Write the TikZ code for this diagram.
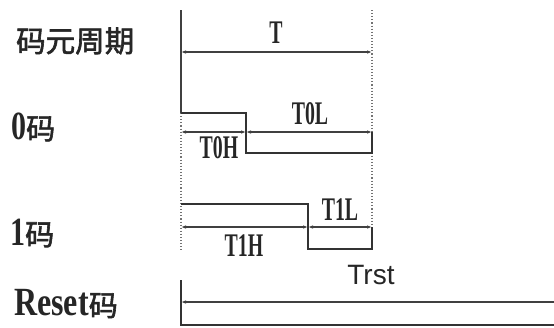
\documentclass[tikz,border=0pt]{standalone}
\usepackage{fontspec}
\setmainfont{Liberation Serif}
\newfontfamily\cjk{Noto Sans CJK SC}[FakeBold=2]
\newfontfamily\cond{Liberation Serif Bold}[FakeStretch=0.75]
\newfontfamily\condr{Liberation Serif Bold}[FakeStretch=0.8]
\newfontfamily\condt{Liberation Serif Bold}[FakeStretch=0.6]
\usetikzlibrary{arrows.meta}
\tikzset{
  wave/.style={line width=1.4pt, draw=black!80},
  ext/.style={line width=1.1pt, draw=black!55, dotted},
  extsolid/.style={line width=1.4pt, draw=black!75},
  dim/.style={line width=1.4pt, draw=black!75, {Latex[length=5pt,width=3.5pt]}-{Latex[length=5pt,width=3.5pt]}},
  dimleft/.style={line width=1.4pt, draw=black!75, {Latex[length=5pt,width=3.5pt]}-},
  rowlabel/.style={anchor=west, inner sep=0pt, text=black!85},
  tlabel/.style={inner sep=0pt, text=black!85, font=\condt\fontsize{33}{33}\selectfont},
}
\begin{document}
\begin{tikzpicture}[x=1pt, y=-1pt]
\useasboundingbox (0,0) rectangle (554,327);
% row labels
\node[rowlabel] (lper) at (16,41) {\cjk\fontsize{29.5}{30}\selectfont 码元周期};
\node[rowlabel] (lzero) at (11,127) {\cond\fontsize{40}{40}\selectfont 0\cjk\fontsize{29}{30}\selectfont 码};
\node[rowlabel] (lone) at (10,233) {\cond\fontsize{40}{40}\selectfont 1\cjk\fontsize{29}{30}\selectfont 码};
\node[rowlabel] (lrst) at (14,304) {\condr\fontsize{40}{40}\selectfont Reset\cjk\fontsize{29}{30}\selectfont 码};
% extension lines
\coordinate (Ltop) at (181,10);
\coordinate (Lmid) at (181,113);
\coordinate (Lbot) at (181,250);
\coordinate (Rtop) at (372,10);
\coordinate (Rbot) at (372,228);
\draw[extsolid] (Ltop) -- (Lmid);
\draw[ext] (Lmid) -- (Lbot);
\draw[ext] (Rtop) -- (Rbot);
% period T
\coordinate (Ta) at (181,52);
\coordinate (Tb) at (372,52);
\draw[dim] (Ta) -- (Tb);
\node[tlabel] (T) at (276,33) {T};
% 0 code waveform
\coordinate (z1) at (181,113);
\coordinate (z2) at (246,113);
\coordinate (z3) at (246,153);
\coordinate (z4) at (372,153);
\coordinate (z5) at (372,132);
\draw[wave] (z1) -- (z2) -- (z3) -- (z4) -- (z5);
\coordinate (za) at (181,132);
\coordinate (zb) at (246,132);
\coordinate (zc) at (372,132);
\draw[dim] (za) -- (zb);
\draw[dim] (zb) -- (zc);
\node[tlabel] (T0H) at (219,148) {T0H};
\node[tlabel] (T0L) at (310,114) {T0L};
% 1 code waveform
\coordinate (o1) at (181,204);
\coordinate (o2) at (308,204);
\coordinate (o3) at (308,249);
\coordinate (o4) at (372,249);
\coordinate (o5) at (372,227);
\draw[wave] (o1) -- (o2) -- (o3) -- (o4) -- (o5);
\coordinate (oa) at (181,227);
\coordinate (ob) at (308,227);
\coordinate (oc) at (372,227);
\draw[dim] (oa) -- (ob);
\draw[dim] (ob) -- (oc);
\node[tlabel] (T1H) at (244,246) {T1H};
\node[tlabel] (T1L) at (340,210) {T1L};
% reset
\coordinate (r1) at (181,280);
\coordinate (r2) at (181,325);
\coordinate (r3) at (554,325);
\draw[wave] (r1) -- (r2) -- (r3);
\coordinate (ra) at (181,302);
\coordinate (rb) at (554,302);
\draw[dimleft] (ra) -- (rb);
\node[inner sep=0pt, text=black!85, font=\fontspec{Liberation Sans}\fontsize{28}{28}\selectfont] (Trst) at (371,275) {Trst};
\end{tikzpicture}
\end{document}
